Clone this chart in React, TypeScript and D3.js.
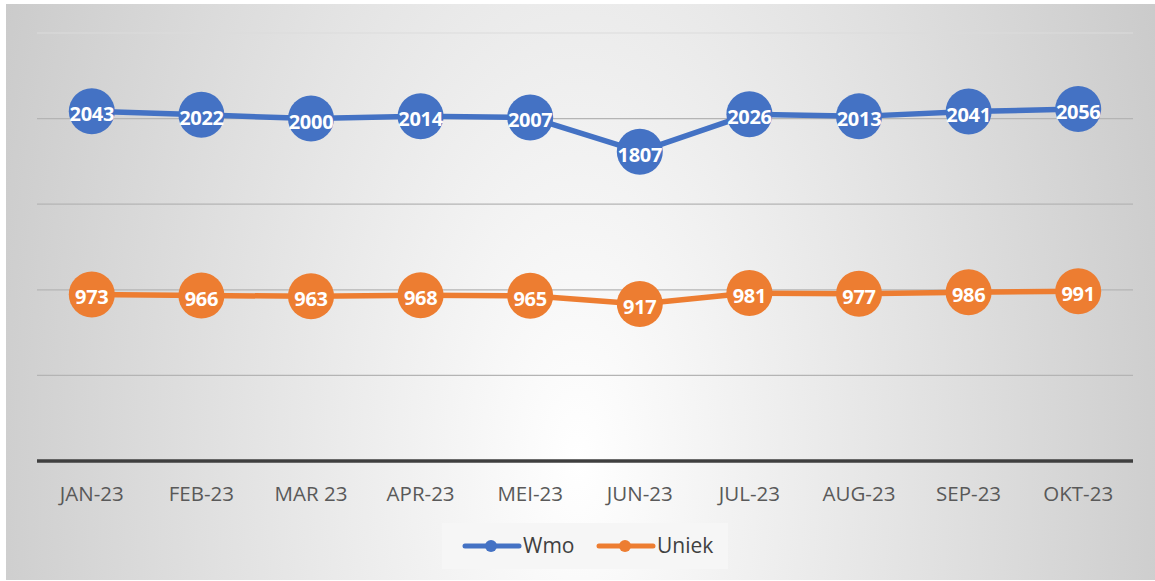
import React, { useEffect, useRef } from 'react';
import * as d3 from 'd3';

const MONTHS = ['JAN-23', 'FEB-23', 'MAR 23', 'APR-23', 'MEI-23', 'JUN-23', 'JUL-23', 'AUG-23', 'SEP-23', 'OKT-23'];
const WMO = [2043, 2022, 2000, 2014, 2007, 1807, 2026, 2013, 2041, 2056];
const UNIEK = [973, 966, 963, 968, 965, 917, 981, 977, 986, 991];
const Y_TICKS = [0, 500, 1000, 1500, 2000, 2500];

const SERIES = [
  { name: 'Wmo', values: WMO, color: '#4472c4' },
  { name: 'Uniek', values: UNIEK, color: '#ed7d31' },
];

export default function App() {
  const svgRef = useRef<SVGSVGElement | null>(null);

  useEffect(() => {
    document.body.style.margin = '0';
    const svgEl = svgRef.current;
    if (!svgEl) return;

    const width = 1155;
    const height = 581;
    const left = 37;
    const right = 1133;
    const top = 33;
    const bottom = 461;
    const font = '"Open Sans", "Noto Sans", sans-serif';

    const svg = d3.select(svgEl);
    svg.selectAll('*').remove();
    svg.attr('viewBox', `0 0 ${width} ${height}`);

    // Background gradient (white toward the bottom centre, gray at the sides)
    const defs = svg.append('defs');
    const grad = defs
      .append('radialGradient')
      .attr('id', 'bg')
      .attr('gradientUnits', 'userSpaceOnUse')
      .attr('cx', 578)
      .attr('cy', 462)
      .attr('r', 750)
      .attr('gradientTransform', 'translate(578,462) scale(1,1.97) translate(-578,-462)');
    grad.append('stop').attr('offset', '0%').attr('stop-color', '#ffffff');
    grad.append('stop').attr('offset', '100%').attr('stop-color', '#c0c0c0');

    svg.append('rect').attr('width', width).attr('height', height).attr('fill', '#ffffff');
    svg
      .append('rect')
      .attr('x', 6)
      .attr('y', 4)
      .attr('width', width - 6)
      .attr('height', height - 5)
      .attr('fill', 'url(#bg)');

    // Scales
    const x = d3.scaleBand().domain(MONTHS).range([left, right]);
    const y = d3.scaleLinear().domain([0, 2500]).range([bottom, top]);
    const cx = (i: number) => (x(MONTHS[i]) as number) + x.bandwidth() / 2;

    // Gridlines
    svg
      .append('g')
      .selectAll('line')
      .data(Y_TICKS.slice(1))
      .enter()
      .append('line')
      .attr('x1', left)
      .attr('x2', right)
      .attr('y1', d => y(d))
      .attr('y2', d => y(d))
      .attr('stroke', d => (d === 2500 ? '#dcdcdc' : '#b4b4b4'))
      .attr('stroke-width', 1.2);

    // Axis
    svg
      .append('line')
      .attr('x1', left)
      .attr('x2', right)
      .attr('y1', y(0))
      .attr('y2', y(0))
      .attr('stroke', '#3f3f3f')
      .attr('stroke-width', 3.5);

    svg
      .append('g')
      .selectAll('text')
      .data(MONTHS)
      .enter()
      .append('text')
      .attr('x', d => (x(d) as number) + x.bandwidth() / 2)
      .attr('y', 501)
      .attr('text-anchor', 'middle')
      .attr('font-family', font)
      .attr('font-size', 20.5)
      .attr('fill', '#595959')
      .text(d => d);

    // Lines + markers + labels
    const line = d3
      .line<number>()
      .x((_, i) => cx(i))
      .y(d => y(d));

    SERIES.forEach(s => {
      const g = svg.append('g');
      g.append('path')
        .attr('d', line(s.values))
        .attr('fill', 'none')
        .attr('stroke', s.color)
        .attr('stroke-width', 5.5)
        .attr('stroke-linejoin', 'round');

      g.selectAll('circle')
        .data(s.values)
        .enter()
        .append('circle')
        .attr('cx', (_, i) => cx(i))
        .attr('cy', d => y(d))
        .attr('r', 23)
        .attr('fill', s.color);

      g.selectAll('text')
        .data(s.values)
        .enter()
        .append('text')
        .attr('x', (_, i) => cx(i))
        .attr('y', d => y(d) + 10)
        .attr('text-anchor', 'middle')
        .attr('font-family', font)
        .attr('font-weight', 'bold')
        .attr('font-size', 20)
        .attr('letter-spacing', -0.3)
        .attr('fill', '#ffffff')
        .text(d => d);
    });

    // Legend
    const legend = svg.append('g');
    legend
      .append('rect')
      .attr('x', 442)
      .attr('y', 523)
      .attr('width', 286)
      .attr('height', 46)
      .attr('fill', '#f6f6f6');

    const legendX = [463, 597];
    SERIES.forEach((s, i) => {
      const lx = legendX[i];
      legend
        .append('line')
        .attr('x1', lx + 2)
        .attr('x2', lx + 56)
        .attr('y1', 546)
        .attr('y2', 546)
        .attr('stroke', s.color)
        .attr('stroke-width', 5)
        .attr('stroke-linecap', 'round');
      legend
        .append('circle')
        .attr('cx', lx + 28)
        .attr('cy', 546)
        .attr('r', 6)
        .attr('fill', s.color);
      legend
        .append('text')
        .attr('x', lx + 60)
        .attr('y', 553)
        .attr('font-family', font)
        .attr('font-size', 21)
        .attr('fill', '#404040')
        .text(s.name);
    });
  }, []);

  return <svg ref={svgRef} width={1155} height={581} style={{ display: 'block' }} />;
}
